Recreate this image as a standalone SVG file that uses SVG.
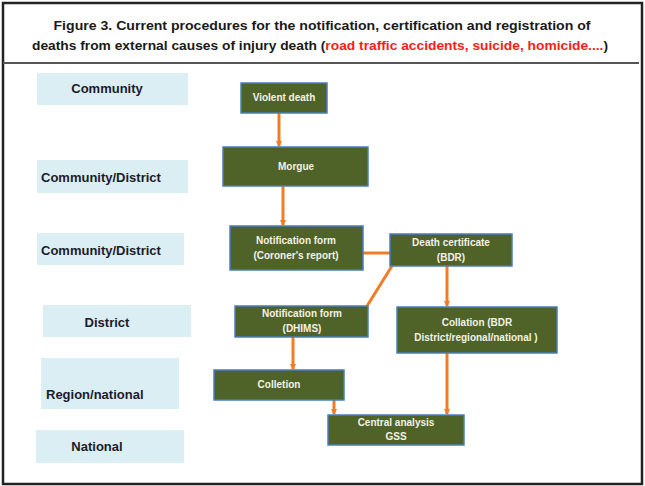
<svg xmlns="http://www.w3.org/2000/svg" width="645" height="486" viewBox="0 0 645 486">
<style>
.title{font-family:"Liberation Sans",Arial,sans-serif;font-weight:bold;font-size:13px;fill:#1a1a1a}
.red{fill:#ff1a1a}
.lvl rect{fill:#dbeef4}
.lvl text{font-family:"Liberation Sans",Arial,sans-serif;font-weight:bold;font-size:13px;fill:#1b1b2a}
.node rect{fill:#4f6228;stroke:#4a7ebb;stroke-width:1.5}
.node text{font-family:"Liberation Sans",Arial,sans-serif;font-weight:bold;font-size:10px;fill:#f2f2e6;text-anchor:middle}
.conn{stroke:#f07c28;stroke-width:3;fill:none}
</style>
<defs>
<marker id="ah" viewBox="0 0 6 6" refX="5" refY="3" markerWidth="2.2" markerHeight="2.2" orient="auto" markerUnits="strokeWidth">
<path d="M0,0 L6,3 L0,6 z" fill="#f07c28"/>
</marker>
</defs>
<rect x="0" y="0" width="645" height="486" fill="#ffffff"/>
<rect x="3" y="3" width="639" height="481" fill="none" stroke="#222" stroke-width="2.5"/>
<line x1="3" y1="63" x2="639" y2="63" stroke="#555" stroke-width="2"/>
<text class="title" x="322" y="30" text-anchor="middle" textLength="537" lengthAdjust="spacingAndGlyphs">Figure 3.  Current procedures  for the notification,  certification  and registration of</text>
<text class="title" x="32" y="50" textLength="576" lengthAdjust="spacingAndGlyphs">deaths from external causes of injury death (<tspan class="red">road  traffic accidents, suicide,  homicide....</tspan>)</text>

<g class="lvl" id="lvl-community"><rect x="37" y="73" width="151" height="32"/><text x="107" y="93" text-anchor="middle">Community</text></g>
<g class="lvl" id="lvl-cd1"><rect x="37" y="160" width="151" height="33"/><text x="41" y="182">Community/District</text></g>
<g class="lvl" id="lvl-cd2"><rect x="37" y="233" width="147" height="32"/><text x="41" y="255">Community/District</text></g>
<g class="lvl" id="lvl-district"><rect x="43" y="305" width="148" height="32"/><text x="107" y="327" text-anchor="middle">District</text></g>
<g class="lvl" id="lvl-region"><rect x="41" y="358" width="138" height="51"/><text x="46" y="399">Region/national</text></g>
<g class="lvl" id="lvl-national"><rect x="36" y="430" width="148" height="33"/><text x="97" y="451" text-anchor="middle">National</text></g>

<g id="connectors">
<line class="conn" x1="279" y1="113" x2="279" y2="146" marker-end="url(#ah)"/>
<line class="conn" x1="283" y1="186" x2="283" y2="225" marker-end="url(#ah)"/>
<line class="conn" x1="363" y1="253" x2="390" y2="253"/>
<line class="conn" x1="392" y1="266" x2="367" y2="306"/>
<line class="conn" x1="447" y1="266" x2="447" y2="306" marker-end="url(#ah)"/>
<line class="conn" x1="293" y1="337" x2="293" y2="369" marker-end="url(#ah)"/>
<line class="conn" x1="334" y1="400" x2="334" y2="414" marker-end="url(#ah)"/>
<line class="conn" x1="447" y1="353" x2="447" y2="414" marker-end="url(#ah)"/>
</g>

<g class="node" id="n-violent"><rect x="241" y="83" width="86" height="30"/><text x="284" y="101">Violent death</text></g>
<g class="node" id="n-morgue"><rect x="223" y="147" width="145" height="39"/><text x="296" y="170">Morgue</text></g>
<g class="node" id="n-coroner"><rect x="230" y="226" width="133" height="44"/><text x="296" y="244">Notification  form</text><text x="296" y="259">(Coroner's report)</text></g>
<g class="node" id="n-deathcert"><rect x="390" y="234" width="122" height="32"/><text x="451" y="246">Death certificate</text><text x="451" y="261">(BDR)</text></g>
<g class="node" id="n-dhims"><rect x="235" y="306" width="133" height="31"/><text x="302" y="317">Notification  form</text><text x="302" y="332">(DHIMS)</text></g>
<g class="node" id="n-collation-bdr"><rect x="397" y="307" width="160" height="46"/><text x="477" y="326">Collation  (BDR</text><text x="476" y="341">District/regional/national    )</text></g>
<g class="node" id="n-colletion"><rect x="214" y="370" width="130" height="30"/><text x="279" y="388">Colletion</text></g>
<g class="node" id="n-central"><rect x="328" y="415" width="136" height="30"/><text x="396" y="426">Central analysis</text><text x="396" y="440">GSS</text></g>
</svg>
